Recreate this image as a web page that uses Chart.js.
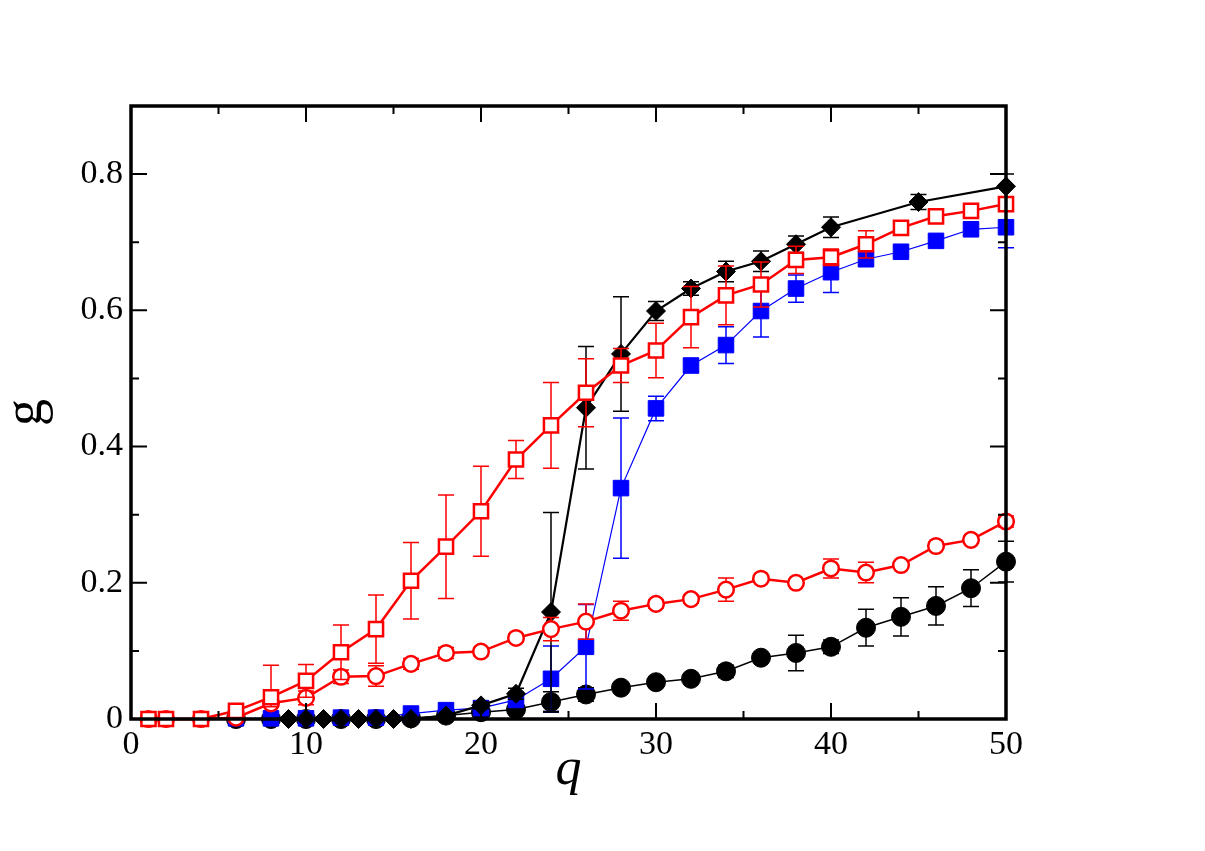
<!DOCTYPE html>
<html>
<head>
<meta charset="utf-8">
<script src="https://cdn.jsdelivr.net/npm/chart.js@4.4.1/dist/chart.umd.min.js"></script>
<style>
  html, body { margin: 0; padding: 0; background: #ffffff; }
  canvas { display: block; }
</style>
</head>
<body>
<canvas id="c" width="1205" height="851"></canvas>
<script>
// ---------- data ----------
const xTicks = [0, 10, 20, 30, 40, 50];
const yTicks = [0, 0.2, 0.4, 0.6, 0.8];

// red open squares
const qRedSq = [1,2,4,6,8,10,12,14,16,18,20,22,24,26,28,30,32,34,36,38,40,42,44,46,48,50];
const gRedSq = [0,0,0,0.012,0.032,0.056,0.098,0.132,0.203,0.253,0.305,0.381,0.431,0.479,0.519,0.541,0.590,0.622,0.638,0.674,0.678,0.697,0.721,0.738,0.746,0.756];
const eRedSq = [0,0,0,0.003,0.047,0.024,0.040,0.050,0.056,0.076,0.066,0.028,0.063,0.050,0.025,0.040,0.045,0.043,0.033,0.020,0.012,0.020,0.006,0.005,0.005,0.005];
const eRedSqLow = [0,0,0,0.003,0.014,0.024,0.040,0.050,0.056,0.076,0.066,0.028,0.063,0.050,0.025,0.040,0.045,0.043,0.033,0.020,0.012,0.020,0.006,0.005,0.005,0.005];

// red open circles
const qRedCi = [1,2,4,6,8,10,12,14,16,18,20,22,24,26,28,30,32,34,36,38,40,42,44,46,48,50];
const gRedCi = [0,0,0,0.002,0.023,0.031,0.062,0.063,0.081,0.097,0.099,0.119,0.132,0.143,0.159,0.169,0.176,0.190,0.206,0.200,0.221,0.215,0.226,0.254,0.263,0.290];
const eRedCi = [0,0,0,0,0.005,0.010,0.010,0.015,0.008,0.008,0.006,0.006,0.017,0.026,0.014,0.006,0.006,0.017,0.004,0.004,0.014,0.015,0.005,0.005,0.005,0.008];

// black diamonds
const qBlkDi = [9,10,11,12,13,14,15,16,18,20,22,24,26,28,30,32,34,36,38,40,45,50];
const gBlkDi = [0,0,0,0,0,0,0,0,0.005,0.020,0.037,0.157,0.457,0.536,0.599,0.632,0.657,0.672,0.697,0.722,0.759,0.782];
const eBlkDi = [0,0,0,0,0,0,0,0,0.002,0.005,0.008,0.146,0.090,0.084,0.014,0.010,0.015,0.015,0.012,0.015,0.011,0.018];

// blue filled squares
const qBluSq = [6,8,10,12,14,16,18,20,22,24,26,28,30,32,34,36,38,40,42,44,46,48,50];
const gBluSq = [0.001,0.001,0.001,0.002,0.002,0.008,0.013,0.016,0.028,0.059,0.106,0.339,0.456,0.519,0.549,0.599,0.632,0.656,0.675,0.686,0.702,0.719,0.722];
const eBluSq = [0,0,0,0,0,0.002,0.003,0.004,0.008,0.048,0.062,0.103,0.018,0.010,0.027,0.038,0.020,0.030,0.008,0.006,0.006,0.008,0.030];

// black filled circles
const qBlkCi = [6,8,10,12,14,16,18,20,22,24,26,28,30,32,34,36,38,40,42,44,46,48,50];
const gBlkCi = [0,0,0,0,0,0.001,0.005,0.010,0.014,0.025,0.036,0.046,0.054,0.059,0.070,0.090,0.097,0.106,0.134,0.150,0.166,0.192,0.231];
const eBlkCi = [0,0,0,0,0,0,0.002,0.003,0.004,0.015,0.010,0.006,0.005,0.005,0.009,0.003,0.026,0.010,0.027,0.028,0.028,0.027,0.030];

// ---------- helpers ----------
function pts(qs, gs) { return qs.map((q, i) => ({ x: q, y: gs[i] })); }
const SERIF = "'Liberation Serif', 'Times New Roman', Times, serif";

const errorBars = {
  id: 'errorBars',
  beforeDatasetDraw(chart, args) {
    const ds = chart.data.datasets[args.index];
    if (!ds.errors) return;
    const ctx = chart.ctx;
    const xs = chart.scales.x, ys = chart.scales.y;
    ctx.save();
    ctx.strokeStyle = ds.errColor;
    ctx.lineWidth = 1.5;
    const cap = 8;
    ds.data.forEach((p, i) => {
      const eu = ds.errors[i];
      const el = ds.errorsLow ? ds.errorsLow[i] : eu;
      if (!eu && !el) return;
      const x = xs.getPixelForValue(p.x);
      const yt = ys.getPixelForValue(p.y + eu);
      const yb = ys.getPixelForValue(Math.max(0, p.y - el));
      ctx.beginPath();
      ctx.moveTo(x, yt); ctx.lineTo(x, yb);
      ctx.moveTo(x - cap, yt); ctx.lineTo(x + cap, yt);
      ctx.moveTo(x - cap, yb); ctx.lineTo(x + cap, yb);
      ctx.stroke();
    });
    ctx.restore();
  }
};

const frame = {
  id: 'frame',
  afterDatasetsDraw(chart) {
    const ctx = chart.ctx;
    const a = chart.chartArea;
    const xs = chart.scales.x, ys = chart.scales.y;
    ctx.save();
    ctx.strokeStyle = '#000';
    ctx.lineWidth = 2;
    const major = 16, minor = 8;
    for (let v = 0; v <= 50; v += 5) {
      const x = xs.getPixelForValue(v);
      const L = (v % 10 === 0) ? major : minor;
      ctx.beginPath();
      ctx.moveTo(x, a.bottom); ctx.lineTo(x, a.bottom - L);
      ctx.moveTo(x, a.top); ctx.lineTo(x, a.top + L);
      ctx.stroke();
    }
    for (let k = 0; k <= 9; k++) {
      const v = k / 10;
      const y = ys.getPixelForValue(v);
      const L = (k % 2 === 0) ? major : minor;
      ctx.beginPath();
      ctx.moveTo(a.left, y); ctx.lineTo(a.left + L, y);
      ctx.moveTo(a.right, y); ctx.lineTo(a.right - L, y);
      ctx.stroke();
    }
    ctx.lineWidth = 3.5;
    ctx.strokeRect(a.left, a.top, a.right - a.left, a.bottom - a.top);
    ctx.restore();
  }
};

const ctx = document.getElementById('c').getContext('2d');
new Chart(ctx, {
  type: 'line',
  data: {
    datasets: [
      {
        label: 'red squares',
        data: pts(qRedSq, gRedSq), errors: eRedSq, errorsLow: eRedSqLow, errColor: '#ff0000',
        borderColor: '#ff0000', borderWidth: 2.5,
        pointStyle: 'rect', pointRadius: 10, pointBorderWidth: 2.5,
        pointBackgroundColor: '#ffffff', pointBorderColor: '#ff0000',
        clip: false, tension: 0
      },
      {
        label: 'red circles',
        data: pts(qRedCi, gRedCi), errors: eRedCi, errColor: '#ff0000',
        borderColor: '#ff0000', borderWidth: 2.5,
        pointStyle: 'circle', pointRadius: 7.8, pointBorderWidth: 2.5,
        pointBackgroundColor: '#ffffff', pointBorderColor: '#ff0000',
        clip: false, tension: 0
      },
      {
        label: 'black diamonds',
        data: pts(qBlkDi, gBlkDi), errors: eBlkDi, errColor: '#000000',
        borderColor: '#000000', borderWidth: 2.2,
        pointStyle: 'rectRot', pointRadius: 9.5, pointBorderWidth: 1,
        pointBackgroundColor: '#000000', pointBorderColor: '#000000',
        clip: false, tension: 0
      },
      {
        label: 'blue squares',
        data: pts(qBluSq, gBluSq), errors: eBluSq, errColor: '#0000ff',
        borderColor: '#0000ff', borderWidth: 1.2,
        pointStyle: 'rect', pointRadius: 11, pointBorderWidth: 1,
        pointBackgroundColor: '#0000ff', pointBorderColor: '#0000ff',
        clip: false, tension: 0
      },
      {
        label: 'black circles',
        data: pts(qBlkCi, gBlkCi), errors: eBlkCi, errColor: '#000000',
        borderColor: '#000000', borderWidth: 1.5,
        pointStyle: 'circle', pointRadius: 9.5, pointBorderWidth: 1,
        pointBackgroundColor: '#000000', pointBorderColor: '#000000',
        clip: false, tension: 0
      }
    ]
  },
  options: {
    responsive: false,
    animation: false,
    devicePixelRatio: 1,
    layout: { padding: { left: 0, right: 199, top: 106, bottom: 0 } },
    plugins: { legend: { display: false }, tooltip: { enabled: false } },
    scales: {
      x: {
        type: 'linear', position: 'bottom', min: 0, max: 50,
        afterBuildTicks: s => { s.ticks = xTicks.map(v => ({ value: v })); },
        afterFit: s => { s.height = 132; },
        grid: { display: false, drawTicks: false },
        border: { display: false },
        ticks: {
          color: '#000', padding: 6, maxRotation: 0, autoSkip: false,
          font: { family: SERIF, size: 34 },
          callback: v => String(v)
        },
        title: {
          display: true, text: 'q', color: '#000',
          font: { family: SERIF, size: 52, style: 'italic', lineHeight: 1 },
          padding: { top: 0, bottom: 55 }
        }
      },
      y: {
        type: 'linear', position: 'left', min: 0, max: 0.9,
        afterBuildTicks: s => { s.ticks = yTicks.map(v => ({ value: v })); },
        afterFit: s => { s.width = 131; },
        grid: { display: false, drawTicks: false },
        border: { display: false },
        ticks: {
          color: '#000', padding: 8, autoSkip: false,
          font: { family: SERIF, size: 34 },
          callback: v => (v === 0 ? '0' : v.toFixed(1))
        },
        title: {
          display: true, text: 'g', color: '#000',
          font: { family: SERIF, size: 54, lineHeight: 1 },
          padding: { top: 0, bottom: 0 }
        }
      }
    }
  },
  plugins: [errorBars, frame]
});
</script>
</body>
</html>
